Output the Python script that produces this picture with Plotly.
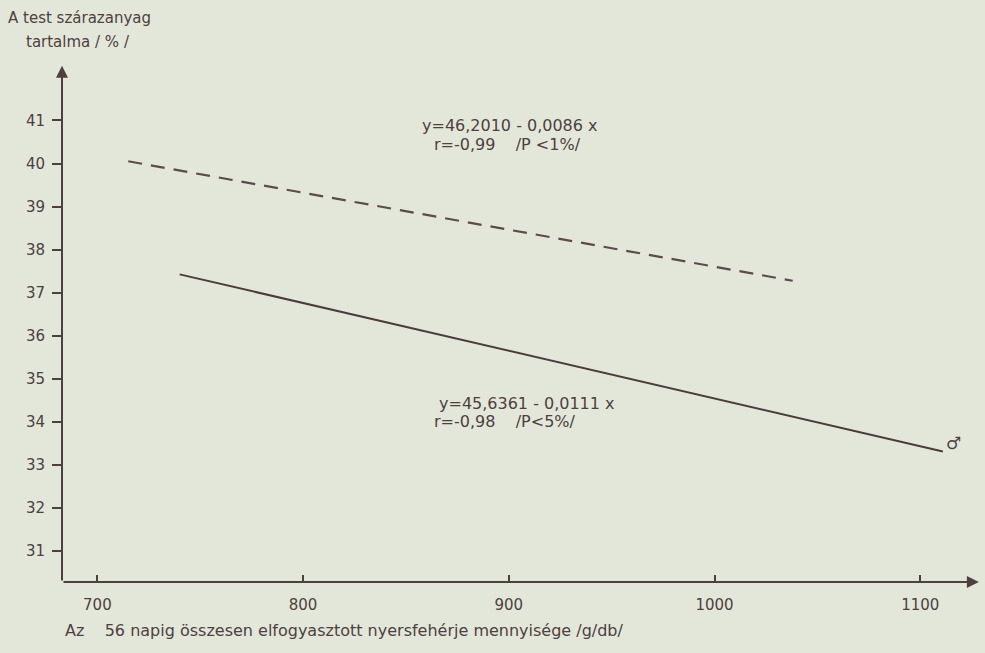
import plotly.graph_objects as go

# Regression of body dry-matter content on total crude protein intake
hen_intercept, hen_slope = 46.2010, -0.0086
hen_x = [715, 1038]
cock_intercept, cock_slope = 45.6361, -0.0111
cock_x = [740, 1111]

x_ticks = [700, 800, 900, 1000, 1100]
y_ticks = [31, 32, 33, 34, 35, 36, 37, 38, 39, 40, 41]

eq_hen = ["y=46,2010 - 0,0086 x", "r=-0,99    /P <1%/"]
eq_cock = ["y=45,6361 - 0,0111 x", "r=-0,98    /P<5%/"]

W, H = 985, 653
ML, MR, MT, MB = 62, 1, 65, 71
X_RANGE = [682.8, 1131]
Y_RANGE = [30.27, 42.29]

INK = "#4d4040"
PAPER = "#e3e7da"
FONT = "DejaVu Sans"


def line_y(b0, b1, xs):
    return [b0 + b1 * x for x in xs]


def pxx(p):
    return (p - ML) / (W - ML - MR)


def pxy(p):
    return 1 - (p - MT) / (H - MT - MB)


def label(text, xp, yp, size):
    return dict(x=pxx(xp), y=pxy(yp), xref="paper", yref="paper", xanchor="left",
                yanchor="middle", showarrow=False, text=text,
                font=dict(family=FONT, size=size, color=INK))


fig = go.Figure()
fig.add_trace(go.Scatter(
    x=hen_x, y=line_y(hen_intercept, hen_slope, hen_x), mode="lines",
    line=dict(color="#5b4b4b", width=2.2, dash="14px,9px"), showlegend=False))
fig.add_trace(go.Scatter(
    x=cock_x, y=line_y(cock_intercept, cock_slope, cock_x), mode="lines",
    line=dict(color="#4a3c3c", width=2), showlegend=False))

ann = []
# axis arrows
ann.append(dict(x=1128.5, y=Y_RANGE[0], ax=X_RANGE[0], ay=Y_RANGE[0], xref="x", yref="y",
                axref="x", ayref="y", text="", showarrow=True, arrowhead=2,
                arrowsize=1.2, arrowwidth=2, arrowcolor=INK))
ann.append(dict(x=X_RANGE[0], y=42.27, ax=X_RANGE[0], ay=Y_RANGE[0], xref="x", yref="y",
                axref="x", ayref="y", text="", showarrow=True, arrowhead=2,
                arrowsize=1.2, arrowwidth=2, arrowcolor=INK))
# axis titles
ann.append(label("A test szárazanyag", 6, 18, 15))
ann.append(label("tartalma / % /", 24, 42, 15))
ann.append(label("Az    56 napig összesen elfogyasztott nyersfehérje mennyisége /g/db/",
                 63, 630, 16))
# regression equations
ann.append(label(eq_hen[0], 420, 126, 16))
ann.append(label(eq_hen[1], 432, 144, 16))
ann.append(label(eq_cock[0], 437, 403, 16))
ann.append(label(eq_cock[1], 432, 421, 16))
# sex symbol at the end of the cock line
ann.append(dict(x=pxx(963), y=pxy(455), xref="paper", yref="paper", showarrow=False,
                text="♂", font=dict(family=FONT, size=17, color=INK)))

fig.update_layout(
    width=W, height=H,
    margin=dict(l=ML, r=MR, t=MT, b=MB),
    paper_bgcolor=PAPER, plot_bgcolor=PAPER,
    annotations=ann,
    xaxis=dict(range=X_RANGE, tickvals=x_ticks, ticktext=[str(v) for v in x_ticks],
               showgrid=False, zeroline=False, showline=False,
               ticks="inside", ticklen=7, tickwidth=1.5, tickcolor=INK,
               ticklabelstandoff=12,
               tickfont=dict(family=FONT, size=15, color=INK)),
    yaxis=dict(range=Y_RANGE, tickvals=y_ticks, ticktext=[str(v) for v in y_ticks],
               showgrid=False, zeroline=False, showline=False,
               ticks="outside", ticklen=9, tickwidth=1.5, tickcolor=INK,
               ticklabelstandoff=4,
               tickfont=dict(family=FONT, size=15, color=INK)),
)

fig.write_html("out.html")
